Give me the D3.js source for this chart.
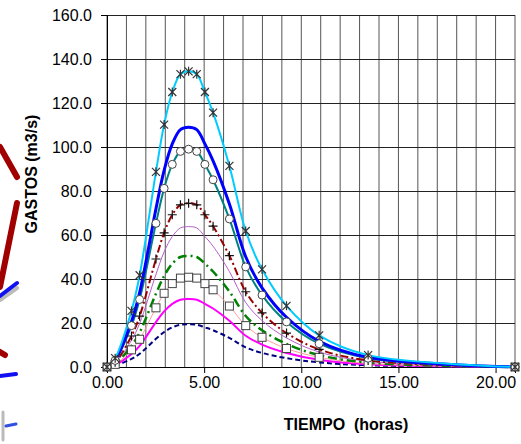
<!DOCTYPE html>
<html>
<head>
<meta charset="utf-8">
<script src="https://cdn.jsdelivr.net/npm/d3@7"></script>
<style>
  body { margin: 0; background: #fff; }
  svg { display: block; }
  text { font-family: "Liberation Sans", Arial, sans-serif; }
</style>
</head>
<body>
<svg id="chart" width="521" height="444"></svg>
<script>
// tiempos (horas) de los puntos del hidrograma
const tiempo = [0, 0.42, 1.26, 1.68, 2.52, 2.94, 3.36, 3.78, 4.2, 4.62, 5.04, 5.46, 6.3, 7.14, 7.98, 9.24, 10.92, 13.44, 21.0];

// gastos (m3/s) por serie
const gastoCian    = [0, 4.0, 25.5, 41.7, 88.7, 110.2, 125.0, 133.1, 134.4, 133.1, 125.0, 115.6, 91.4, 61.8, 44.4, 27.8, 14.4, 5.4, 0];
const gastoAzul    = [0, 3.3, 20.7, 33.8, 71.9, 89.4, 101.4, 107.9, 109.0, 107.9, 101.4, 93.7, 74.1, 50.1, 36.0, 22.6, 11.7, 4.4, 0];
const gastoTeal    = [0, 3.0, 18.8, 30.7, 65.3, 81.2, 92.1, 98.0, 99.0, 98.0, 92.1, 85.1, 67.3, 45.5, 32.7, 20.5, 10.6, 4.0, 0];
const gastoGuinda  = [0, 2.2, 14.1, 23.1, 49.1, 61.0, 69.2, 73.7, 74.4, 73.7, 69.2, 64.0, 50.6, 34.2, 24.6, 15.4, 8.0, 3.0, 0];
const gastoLila    = [0, 1.9, 12.1, 19.8, 42.1, 52.3, 59.3, 63.2, 63.8, 63.2, 59.3, 54.9, 43.4, 29.3, 21.1, 13.2, 6.8, 2.6, 0];
const gastoVerde   = [0, 1.5, 9.6, 15.7, 33.3, 41.4, 47.0, 50.0, 50.5, 50.0, 47.0, 43.4, 34.3, 23.2, 16.7, 10.5, 5.4, 2.0, 0];
const gastoSalmon  = [0, 1.2, 7.8, 12.6, 26.9, 33.5, 37.9, 40.4, 40.8, 40.4, 37.9, 35.1, 27.7, 18.8, 13.5, 8.4, 4.4, 1.6, 0];
const gastoMagenta = [0, 0.9, 5.9, 9.6, 20.4, 25.3, 28.7, 30.6, 30.9, 30.6, 28.7, 26.6, 21.0, 14.2, 10.2, 6.4, 3.3, 1.2, 0];
const gastoMarino  = [0, 0.6, 3.7, 6.0, 12.8, 15.9, 18.0, 19.2, 19.4, 19.2, 18.0, 16.7, 13.2, 8.9, 6.4, 4.0, 2.1, 0.8, 0];

// etiquetas de ejes
const ticksY = [0, 20, 40, 60, 80, 100, 120, 140, 160];
const ticksX = [0, 5, 10, 15, 20];
const tituloY = "GASTOS (m3/s)";
const tituloX = "TIEMPO  (horas)";

// estilo de cada serie (orden de dibujo: de abajo hacia arriba)
const series = [
  { datos: gastoMarino,  color: "#000080", ancho: 2,   dash: "5,3",      marca: null },
  { datos: gastoMagenta, color: "#FF00FF", ancho: 2,   dash: null,       marca: null },
  { datos: gastoSalmon,  color: "#FF9F9F", ancho: 1,   dash: null,       marca: "cuadro" },
  { datos: gastoVerde,   color: "#008000", ancho: 2.5, dash: "9,4,2,4",  marca: null },
  { datos: gastoLila,    color: "#B45FC8", ancho: 1,   dash: null,       marca: null },
  { datos: gastoGuinda,  color: "#990000", ancho: 2,   dash: "8,3,2,3",  marca: "cruz" },
  { datos: gastoTeal,    color: "#008080", ancho: 2,   dash: null,       marca: "circulo" },
  { datos: gastoAzul,    color: "#0000FF", ancho: 3,   dash: null,       marca: null },
  { datos: gastoCian,    color: "#00CCFF", ancho: 2,   dash: null,       marca: "asterisco" }
];

const svg = d3.select("#chart");

// restos de otra imagen en el borde izquierdo
const restos = svg.append("g").attr("class", "restos").attr("stroke-linecap", "round").attr("fill", "none");
restos.append("path").attr("d", "M0,147 L17,177").attr("stroke", "#A00000").attr("stroke-width", 6);
restos.append("path").attr("d", "M17,203 L0,287").attr("stroke", "#A00000").attr("stroke-width", 6);
restos.append("path").attr("d", "M0,300 L17,288").attr("stroke", "#bbb").attr("stroke-width", 4);
restos.append("path").attr("d", "M0,296 L17,283").attr("stroke", "#1010F0").attr("stroke-width", 4);
restos.append("path").attr("d", "M0,352 L5,355").attr("stroke", "#A00000").attr("stroke-width", 6);
restos.append("path").attr("d", "M0,376 L16,374").attr("stroke", "#1010F0").attr("stroke-width", 4);
restos.append("path").attr("d", "M3,412 L3,440").attr("stroke", "#bbb").attr("stroke-width", 3);
restos.append("path").attr("d", "M6,426 L16,424").attr("stroke", "#3050E0").attr("stroke-width", 3);

const x = d3.scaleLinear().domain([0, 21]).range([107, 515]);
const y = d3.scaleLinear().domain([0, 160]).range([367, 15]);

// rejilla
const rejilla = svg.append("g").attr("class", "rejilla");
rejilla.selectAll("line.v")
  .data(d3.range(0, 22))
  .enter().append("line")
  .attr("class", "v")
  .attr("x1", d => x(d)).attr("x2", d => x(d))
  .attr("y1", y(0)).attr("y2", y(160))
  .attr("stroke", "#555").attr("stroke-width", 1);
rejilla.selectAll("line.h")
  .data(ticksY)
  .enter().append("line")
  .attr("class", "h")
  .attr("x1", x(0)).attr("x2", x(21))
  .attr("y1", d => Math.round(y(d)) + 0.5).attr("y2", d => Math.round(y(d)) + 0.5)
  .attr("stroke", "#222").attr("stroke-width", 1);

// ejes
const ejeY = svg.append("g")
  .attr("transform", `translate(${x(0)},0)`)
  .call(d3.axisLeft(y).tickValues(ticksY).tickSize(6).tickPadding(9).tickFormat(d3.format(".1f")));
const ejeX = svg.append("g")
  .attr("transform", `translate(0,${y(0)})`)
  .call(d3.axisBottom(x).tickValues(ticksX).tickSize(6).tickPadding(4).tickFormat(d3.format(".2f")));
[ejeY, ejeX].forEach(g => {
  g.select(".domain").attr("stroke", "#000");
  g.selectAll(".tick line").attr("stroke", "#000");
  g.selectAll(".tick text").attr("fill", "#000").style("font-size", "16px").style("font-family", "'Liberation Sans', Arial, sans-serif");
});

// curvas suavizadas
const linea = d3.line()
  .x(d => x(d[0]))
  .y(d => y(d[1]))
  .curve(d3.curveCatmullRom.alpha(0.5));

const capas = svg.append("g").attr("class", "series");
series.forEach(s => {
  const pts = tiempo.map((t, i) => [t, s.datos[i]]);
  capas.append("path")
    .datum(pts)
    .attr("d", linea)
    .attr("fill", "none")
    .attr("stroke", s.color)
    .attr("stroke-width", s.ancho)
    .attr("stroke-dasharray", s.dash)
    .attr("stroke-linejoin", "round");
});

// marcadores
series.forEach(s => {
  if (!s.marca) return;
  const pts = tiempo.map((t, i) => [t, s.datos[i]]);
  const g = capas.append("g").attr("class", "marcas-" + s.marca);
  const sel = g.selectAll("g").data(pts).enter().append("g")
    .attr("transform", d => `translate(${x(d[0])},${y(d[1])})`);
  if (s.marca === "cuadro") {
    sel.append("rect").attr("x", -4).attr("y", -4).attr("width", 8).attr("height", 8)
      .attr("fill", "#fff").attr("stroke", "#444").attr("stroke-width", 1);
  } else if (s.marca === "circulo") {
    sel.append("circle").attr("r", 4)
      .attr("fill", "#fff").attr("stroke", "#444").attr("stroke-width", 1);
  } else if (s.marca === "cruz") {
    sel.append("path").attr("d", "M-4.5,0H4.5M0,-4.5V4.5")
      .attr("stroke", "#111").attr("stroke-width", 1.2);
  } else if (s.marca === "asterisco") {
    sel.append("path").attr("d", "M-4,-4L4,4M-4,4L4,-4M0,-4.5V4.5")
      .attr("stroke", "#333").attr("stroke-width", 1.2);
  }
});

// titulos de ejes
svg.append("text")
  .attr("transform", `translate(37,174) rotate(-90)`)
  .attr("text-anchor", "middle")
  .style("font-size", "16px").style("font-weight", "bold")
  .attr("xml:space", "preserve")
  .text(tituloY);
svg.append("text")
  .attr("x", 346).attr("y", 430)
  .attr("text-anchor", "middle")
  .style("font-size", "16px").style("font-weight", "bold")
  .style("white-space", "pre")
  .text(tituloX);
</script>
</body>
</html>
